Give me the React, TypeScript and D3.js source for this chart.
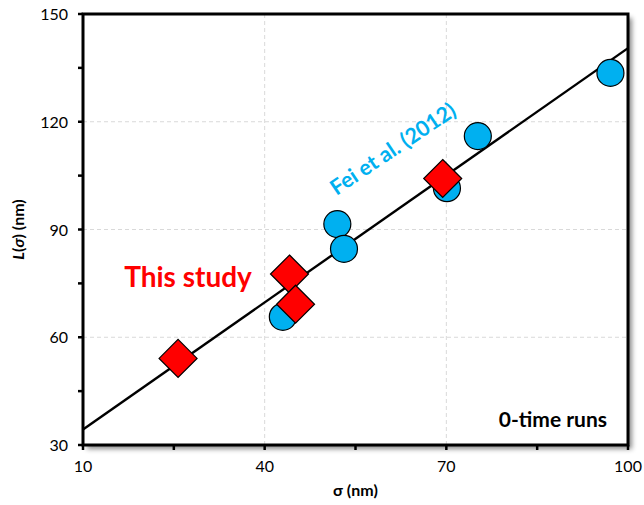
import React from "react";
import * as d3 from "d3";

const xTicks = [10, 40, 70, 100];
const xMinor = [25, 55, 85];
const yTicks = [30, 60, 90, 120, 150];
const yMinor = [45, 75, 105, 135];

const feiX = [43.0, 52.0, 53.1, 70.1, 75.2, 97.1];
const feiY = [65.7, 91.5, 84.6, 101.5, 116.0, 133.6];

const studyX = [25.7, 44.1, 45.1, 69.4];
const studyY = [54.1, 77.6, 69.2, 104.2];

const fitX = [10, 100];
const fitY = [34.3, 140.5];

const FONT = "Lato, 'Open Sans', sans-serif";

export default function App() {
  const W = 644, H = 505;
  const L = 83, R = 628, T = 14, B = 445;
  const x = d3.scaleLinear().domain([10, 100]).range([L, R]);
  const y = d3.scaleLinear().domain([30, 150]).range([B, T]);
  const line = d3.line<number>().x((d, i) => x(fitX[i])).y((d) => y(d));
  const diamond = (cx: number, cy: number, r: number) =>
    `M${cx},${cy - r}L${cx + r},${cy}L${cx},${cy + r}L${cx - r},${cy}Z`;
  return (
    <svg width={W} height={H} style={{ position: "absolute", left: 0, top: 0 }} fontFamily={FONT}>
      <defs>
        <filter id="sh" x="-10%" y="-10%" width="125%" height="125%">
          <feDropShadow dx="4" dy="4" stdDeviation="2.5" floodColor="#000" floodOpacity="0.45" />
        </filter>
        <clipPath id="clip">
          <rect x={L} y={T} width={R - L} height={B - T} />
        </clipPath>
      </defs>
      <rect x={0} y={0} width={W} height={H} fill="#fff" />
      <rect x={L} y={T} width={R - L} height={B - T} fill="#fff" filter="url(#sh)" />
      {xTicks.slice(1, -1).map((t) => (
        <line key={"gx" + t} x1={x(t)} x2={x(t)} y1={T} y2={B} stroke="#d9d9d9" strokeDasharray="4,3" strokeWidth={1} />
      ))}
      {yTicks.slice(1, -1).map((t) => (
        <line key={"gy" + t} x1={L} x2={R} y1={y(t)} y2={y(t)} stroke="#d9d9d9" strokeDasharray="4,3" strokeWidth={1} />
      ))}
      <g clipPath="url(#clip)">
        <path d={line(fitY) || ""} stroke="#000" strokeWidth={2.4} fill="none" />
      </g>
      {feiX.map((v, i) => (
        <circle key={"c" + i} cx={x(v)} cy={y(feiY[i])} r={13.5} fill="#00B0F0" stroke="#000" strokeWidth={1.2} />
      ))}
      {studyX.map((v, i) => (
        <path key={"d" + i} d={diamond(x(v), y(studyY[i]), 19)} fill="#FF0000" stroke="#000" strokeWidth={1.2} />
      ))}
      <rect x={L} y={T} width={R - L} height={B - T} fill="none" stroke="#000" strokeWidth={3} />
      {xTicks.concat(xMinor).map((t) => (
        <line key={"tx" + t} x1={x(t)} x2={x(t)} y1={B} y2={B + 5} stroke="#000" strokeWidth={2.5} />
      ))}
      {yTicks.concat(yMinor).map((t) => (
        <line key={"ty" + t} x1={L - 5} x2={L} y1={y(t)} y2={y(t)} stroke="#000" strokeWidth={2.5} />
      ))}
      {xTicks.map((t) => (
        <text key={"lx" + t} x={x(t)} y={B + 27} textAnchor="middle" fontSize={16} fill="#000">{t}</text>
      ))}
      {yTicks.map((t) => (
        <text key={"ly" + t} x={L - 15} y={y(t) + 6} textAnchor="end" fontSize={16} fill="#000">{t}</text>
      ))}
      <text x={(L + R) / 2} y={496} textAnchor="middle" fontSize={16} fontWeight="bold" fill="#000">σ (nm)</text>
      <text transform={`translate(24,${(T + B) / 2}) rotate(-90)`} textAnchor="middle" fontSize={16} fontWeight="bold" fill="#000">
        <tspan fontStyle="italic">L</tspan>(<tspan fontStyle="italic">σ</tspan>) (nm)
      </text>
      <text x={188} y={287} textAnchor="middle" fontSize={28} fontWeight="bold" fill="#FF0000">This study</text>
      <text transform="translate(397,155) rotate(-34)" textAnchor="middle" fontSize={21.5} fontWeight="bold" fill="#00B0F0">Fei et al. (2012)</text>
      <text x={607} y={427} textAnchor="end" fontSize={21} fontWeight="bold" fill="#000">0-time runs</text>
    </svg>
  );
}
